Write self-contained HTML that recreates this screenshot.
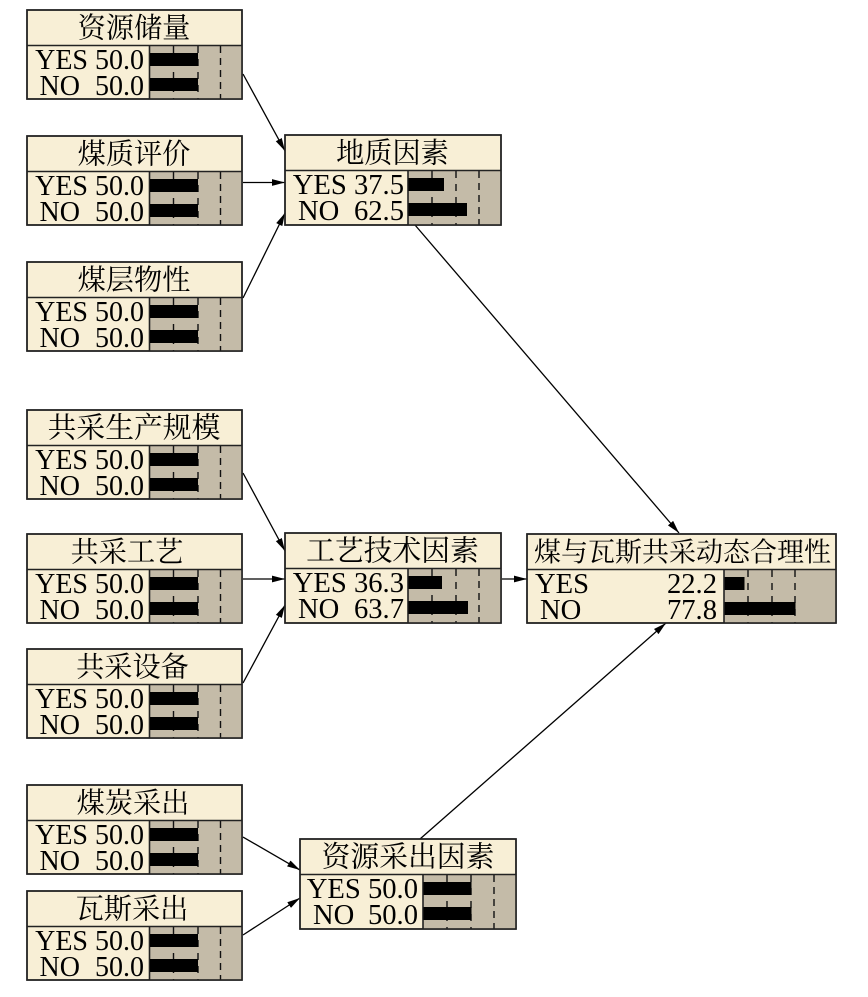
<!DOCTYPE html>
<html><head><meta charset="utf-8"><style>
html,body{margin:0;padding:0;background:#fff}
svg{display:block}
.t{font-family:"Noto Serif CJK SC","Liberation Serif",serif;font-size:28.2px;text-anchor:middle;fill:#000}
.l,.r{font-family:"Liberation Serif",serif;font-size:28px;fill:#000}
.r{text-anchor:end}
.w .l,.w .r{font-size:28.6px}
.w .t{font-size:28.8px}
.c{stroke:#000;stroke-width:1.300;fill:none;marker-end:url(#a)}
</style></head><body>
<svg width="868" height="997" viewBox="0 0 868 997" xmlns="http://www.w3.org/2000/svg">
<defs>
<marker id="a" markerUnits="userSpaceOnUse" markerWidth="13" markerHeight="8" refX="13" refY="4" orient="auto"><path d="M0 0.6L13 4L0 7.4Z" fill="#000"/></marker>
<g id="n">
<rect x="0" y="0" width="215" height="89" fill="#f8efd6" stroke="#222" stroke-width="1.500"/>
<rect x="123" y="36" width="92" height="53" fill="#c4bba8"/>
<path d="M146.500 36V89M171 36V89" stroke="#111" stroke-width="1.400" stroke-dasharray="7 6" fill="none"/>
<path d="M193.500 36V89" stroke="#111" stroke-width="1.400" stroke-dasharray="7 5" fill="none"/>
<path d="M0 35.500H215M122.500 36V89" stroke="#222" stroke-width="1.600" fill="none"/>
<rect x="0" y="0" width="215" height="89" fill="none" stroke="#222" stroke-width="1.600"/>
</g>
<g id="m">
<rect x="0" y="0" width="216" height="90" fill="#f8efd6" stroke="#222" stroke-width="1.500"/>
<rect x="123.500" y="36" width="92.500" height="54" fill="#c4bba8"/>
<path d="M147 36V90M171 36V90" stroke="#111" stroke-width="1.400" stroke-dasharray="7 6" fill="none"/>
<path d="M194 36V90" stroke="#111" stroke-width="1.400" stroke-dasharray="7 5" fill="none"/>
<path d="M0 35.500H216M123 36V90" stroke="#222" stroke-width="1.600" fill="none"/>
<rect x="0" y="0" width="216" height="90" fill="none" stroke="#222" stroke-width="1.600"/>
</g>
<g id="b50"><rect x="123" y="43" width="48" height="13" fill="#000"/><rect x="123" y="68" width="48" height="13" fill="#000"/></g>
</defs>

<line class="c" x1="243" y1="74" x2="285" y2="151"/>
<line class="c" x1="243" y1="182.500" x2="285" y2="182.500"/>
<line class="c" x1="243" y1="298" x2="285" y2="213"/>
<line class="c" x1="415" y1="225" x2="679" y2="533"/>
<line class="c" x1="243" y1="473" x2="285" y2="551"/>
<line class="c" x1="243" y1="579" x2="285" y2="579"/>
<line class="c" x1="243" y1="683" x2="285" y2="605"/>
<line class="c" x1="502" y1="579" x2="527" y2="579"/>
<line class="c" x1="420" y1="839" x2="666" y2="623"/>
<line class="c" x1="243" y1="837" x2="300" y2="870"/>
<line class="c" x1="243" y1="935" x2="300" y2="898"/>

<g transform="translate(27,10)"><use href="#n"/><use href="#b50"/><text class="t" x="107" y="27.500">资源储量</text><text class="r" x="117" y="59">YES 50.0</text><text class="l" x="12.500" y="85">NO</text><text class="r" x="117" y="85">50.0</text></g>
<g transform="translate(27,136)"><use href="#n"/><use href="#b50"/><text class="t" x="107" y="27.500">煤质评价</text><text class="r" x="117" y="59">YES 50.0</text><text class="l" x="12.500" y="85">NO</text><text class="r" x="117" y="85">50.0</text></g>
<g transform="translate(27,262)"><use href="#n"/><use href="#b50"/><text class="t" x="107" y="27.500">煤层物性</text><text class="r" x="117" y="59">YES 50.0</text><text class="l" x="12.500" y="85">NO</text><text class="r" x="117" y="85">50.0</text></g>
<g transform="translate(27,410)" class="w"><use href="#n"/><use href="#b50"/><text class="t" x="107" y="27.500">共采生产规模</text></g>
<g transform="translate(27,410)"><text class="r" x="117" y="59">YES 50.0</text><text class="l" x="12.500" y="85">NO</text><text class="r" x="117" y="85">50.0</text></g>
<g transform="translate(27,534)"><use href="#n"/><use href="#b50"/><text class="t" x="100" y="27.500">共采工艺</text><text class="r" x="117" y="59">YES 50.0</text><text class="l" x="12.500" y="85">NO</text><text class="r" x="117" y="85">50.0</text></g>
<g transform="translate(27,649)"><use href="#n"/><use href="#b50"/><text class="t" x="105.500" y="27.500">共采设备</text><text class="r" x="117" y="59">YES 50.0</text><text class="l" x="12.500" y="85">NO</text><text class="r" x="117" y="85">50.0</text></g>
<g transform="translate(27,785)"><use href="#n"/><use href="#b50"/><text class="t" x="106" y="27.500">煤炭采出</text><text class="r" x="117" y="59">YES 50.0</text><text class="l" x="12.500" y="85">NO</text><text class="r" x="117" y="85">50.0</text></g>
<g transform="translate(27,891)"><use href="#n"/><use href="#b50"/><text class="t" x="105" y="27.500">瓦斯采出</text><text class="r" x="117" y="59">YES 50.0</text><text class="l" x="12.500" y="85">NO</text><text class="r" x="117" y="85">50.0</text></g>

<g transform="translate(285,135)" class="w"><use href="#m"/><rect x="123.500" y="43" width="35.500" height="13" fill="#000"/><rect x="123.500" y="68" width="58.500" height="13" fill="#000"/><text class="t" x="107.500" y="27.500" style="font-size:28.200px">地质因素</text><text class="r" x="119" y="59">YES 37.5</text><text class="l" x="13" y="85">NO</text><text class="r" x="119" y="85">62.5</text></g>
<g transform="translate(285,533)" class="w"><use href="#m"/><rect x="123.500" y="43" width="33.500" height="13" fill="#000"/><rect x="123.500" y="68" width="59.500" height="13" fill="#000"/><text class="t" x="107.500" y="27.500">工艺技术因素</text><text class="r" x="119" y="59">YES 36.3</text><text class="l" x="13" y="85">NO</text><text class="r" x="119" y="85">63.7</text></g>
<g transform="translate(300,839)" class="w"><use href="#m"/><rect x="123.500" y="43" width="48" height="13" fill="#000"/><rect x="123.500" y="68" width="48" height="13" fill="#000"/><text class="t" x="108" y="27.500">资源采出因素</text><text class="r" x="118" y="59">YES 50.0</text><text class="l" x="13" y="85">NO</text><text class="r" x="118" y="85">50.0</text></g>

<g transform="translate(527,534)" class="w">
<rect x="0" y="0" width="309" height="89" fill="#f8efd6" stroke="#222" stroke-width="1.500"/>
<rect x="197.500" y="36" width="111.500" height="53" fill="#c4bba8"/>
<path d="M221 36V89M245 36V89M268 36V89" stroke="#111" stroke-width="1.400" stroke-dasharray="7 6" fill="none"/>
<rect x="197.500" y="43" width="20" height="13" fill="#000"/><rect x="197.500" y="68" width="71" height="13" fill="#000"/>
<path d="M0 35.500H309M197 36V89" stroke="#222" stroke-width="1.600" fill="none"/>
<rect x="0" y="0" width="309" height="89" fill="none" stroke="#222" stroke-width="1.600"/>
<text class="t" x="155.500" y="27.500" style="font-size:27px">煤与瓦斯共采动态合理性</text>
<text class="l" x="8" y="59">YES</text><text class="r" x="190" y="59">22.2</text>
<text class="l" x="13" y="85">NO</text><text class="r" x="190" y="85">77.8</text>
</g>
</svg>
</body></html>
